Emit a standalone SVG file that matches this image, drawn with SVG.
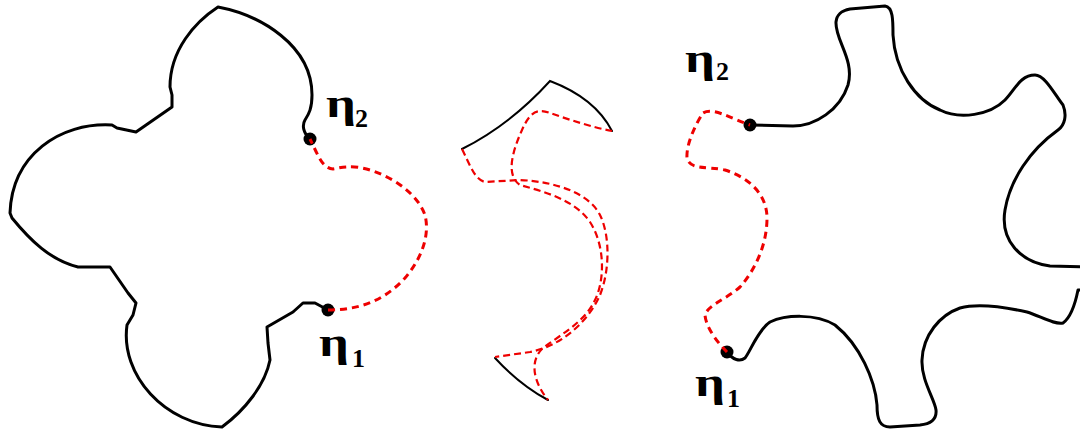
<svg xmlns="http://www.w3.org/2000/svg" width="1080" height="430" viewBox="0 0 1080 430">
<style>
.outline{fill:none;stroke:#000;stroke-width:3;stroke-linejoin:round;stroke-linecap:round}
.thin{fill:none;stroke:#000;stroke-width:2;stroke-linecap:round}
.red{fill:none;stroke:#e00;stroke-width:3;stroke-dasharray:7 5}
.redthin{fill:none;stroke:#e00;stroke-width:2.2;stroke-dasharray:7 4}
.dot{fill:#000}
.eta{font-family:"Liberation Serif","Times New Roman",serif;font-weight:bold;font-size:42px;fill:#000}
.sub{font-family:"Liberation Serif","Times New Roman",serif;font-weight:bold;font-size:26px;fill:#000}
</style>
<rect width="1080" height="430" fill="#fff"/>
<g id="left-shape">
<path class="outline" d="M310,139 C303,133 302,125 305,120 C309,114 312,108 312,95 C312,45 260,15 218,7 C195,22 170,50 170,87 L172,95 L172,107 L136,132 L117,128 L112,125 C60,122 12,155 10,213 L12,218 C30,240 50,260 78,267 L110,267 L128,293 L136,303 L133,315 L127,325 C120,375 165,425 222,427 C245,410 265,385 270,360 L268,343 L267,327 L293,312 L303,303 L315,303 L328,310"/>
<circle class="dot" cx="310" cy="139" r="6.5"/>
<circle class="dot" cx="328" cy="310" r="6.5"/>
</g>
<g id="middle-piece">
<path class="thin" d="M462,149 Q510,125 550,81 Q595,98 612,131"/>
<path class="thin" d="M495,358 Q520,385 548,400"/>
</g>
<g id="right-shape">
<path class="outline" d="M750,125 L793,126 C815,126 840,110 848,85 C855,60 835,40 836,22 C837,12 845,10 850,9 L885,6 C893,7 893,20 893,35 C895,70 915,100 940,110 C960,120 990,115 1005,100 C1015,90 1020,75 1035,75 C1045,75 1055,95 1063,105 C1067,115 1065,125 1058,130 C1030,150 1010,180 1005,210 C1000,240 1020,262 1050,266 L1092,267 L1092,290 L1078,290 C1075,305 1070,318 1063,323 C1055,325 1040,316 1027,312 C1000,306 975,304 960,308 C940,315 923,335 922,360 C921,380 935,400 936,410 C937,420 930,424 920,425 L890,427 C880,427 877,420 877,405 C875,380 860,345 835,325 C815,313 785,315 770,322 C758,330 750,352 745,358 C740,362 733,360 727,352"/>
<circle class="dot" cx="750" cy="125" r="6.5"/>
<circle class="dot" cx="727" cy="352" r="6.5"/>
</g>
<g id="connectors">
<path class="red" d="M328,310 C360,310 385,300 405,278 C422,258 430,235 425,215 C418,195 395,178 370,170 C350,164 340,168 333,169 C322,168 318,155 310,139"/>
<path class="redthin" d="M462,149 C470,165 475,180 485,182 L520,180 C560,182 590,195 600,215 C610,235 610,270 600,295 C590,318 565,345 530,352 L495,357"/>
<path class="redthin" d="M612,131 C595,128 570,120 550,113 C537,108 530,112 522,130 C513,150 505,175 520,185 C545,192 575,200 590,222 C605,245 605,280 595,300 C585,322 560,335 543,348 C530,360 532,380 548,400"/>
<path class="red" d="M727,352 C718,343 706,328 705,315 C708,305 725,300 740,287 C755,270 767,245 767,218 C767,195 750,178 725,170 C705,166 690,170 687,158 C686,145 695,125 703,113 C713,107 730,118 750,125"/>
</g>
<g id="labels">
<text class="eta" transform="translate(326,117) scale(1.25,1)">η</text><text class="sub" x="355" y="127">2</text>
<text class="eta" transform="translate(319,356) scale(1.25,1)">η</text><text class="sub" x="352" y="367">1</text>
<text class="eta" transform="translate(685,72) scale(1.25,1)">η</text><text class="sub" x="716" y="80">2</text>
<text class="eta" transform="translate(695,396) scale(1.25,1)">η</text><text class="sub" x="727" y="407">1</text>
</g>
</svg>
